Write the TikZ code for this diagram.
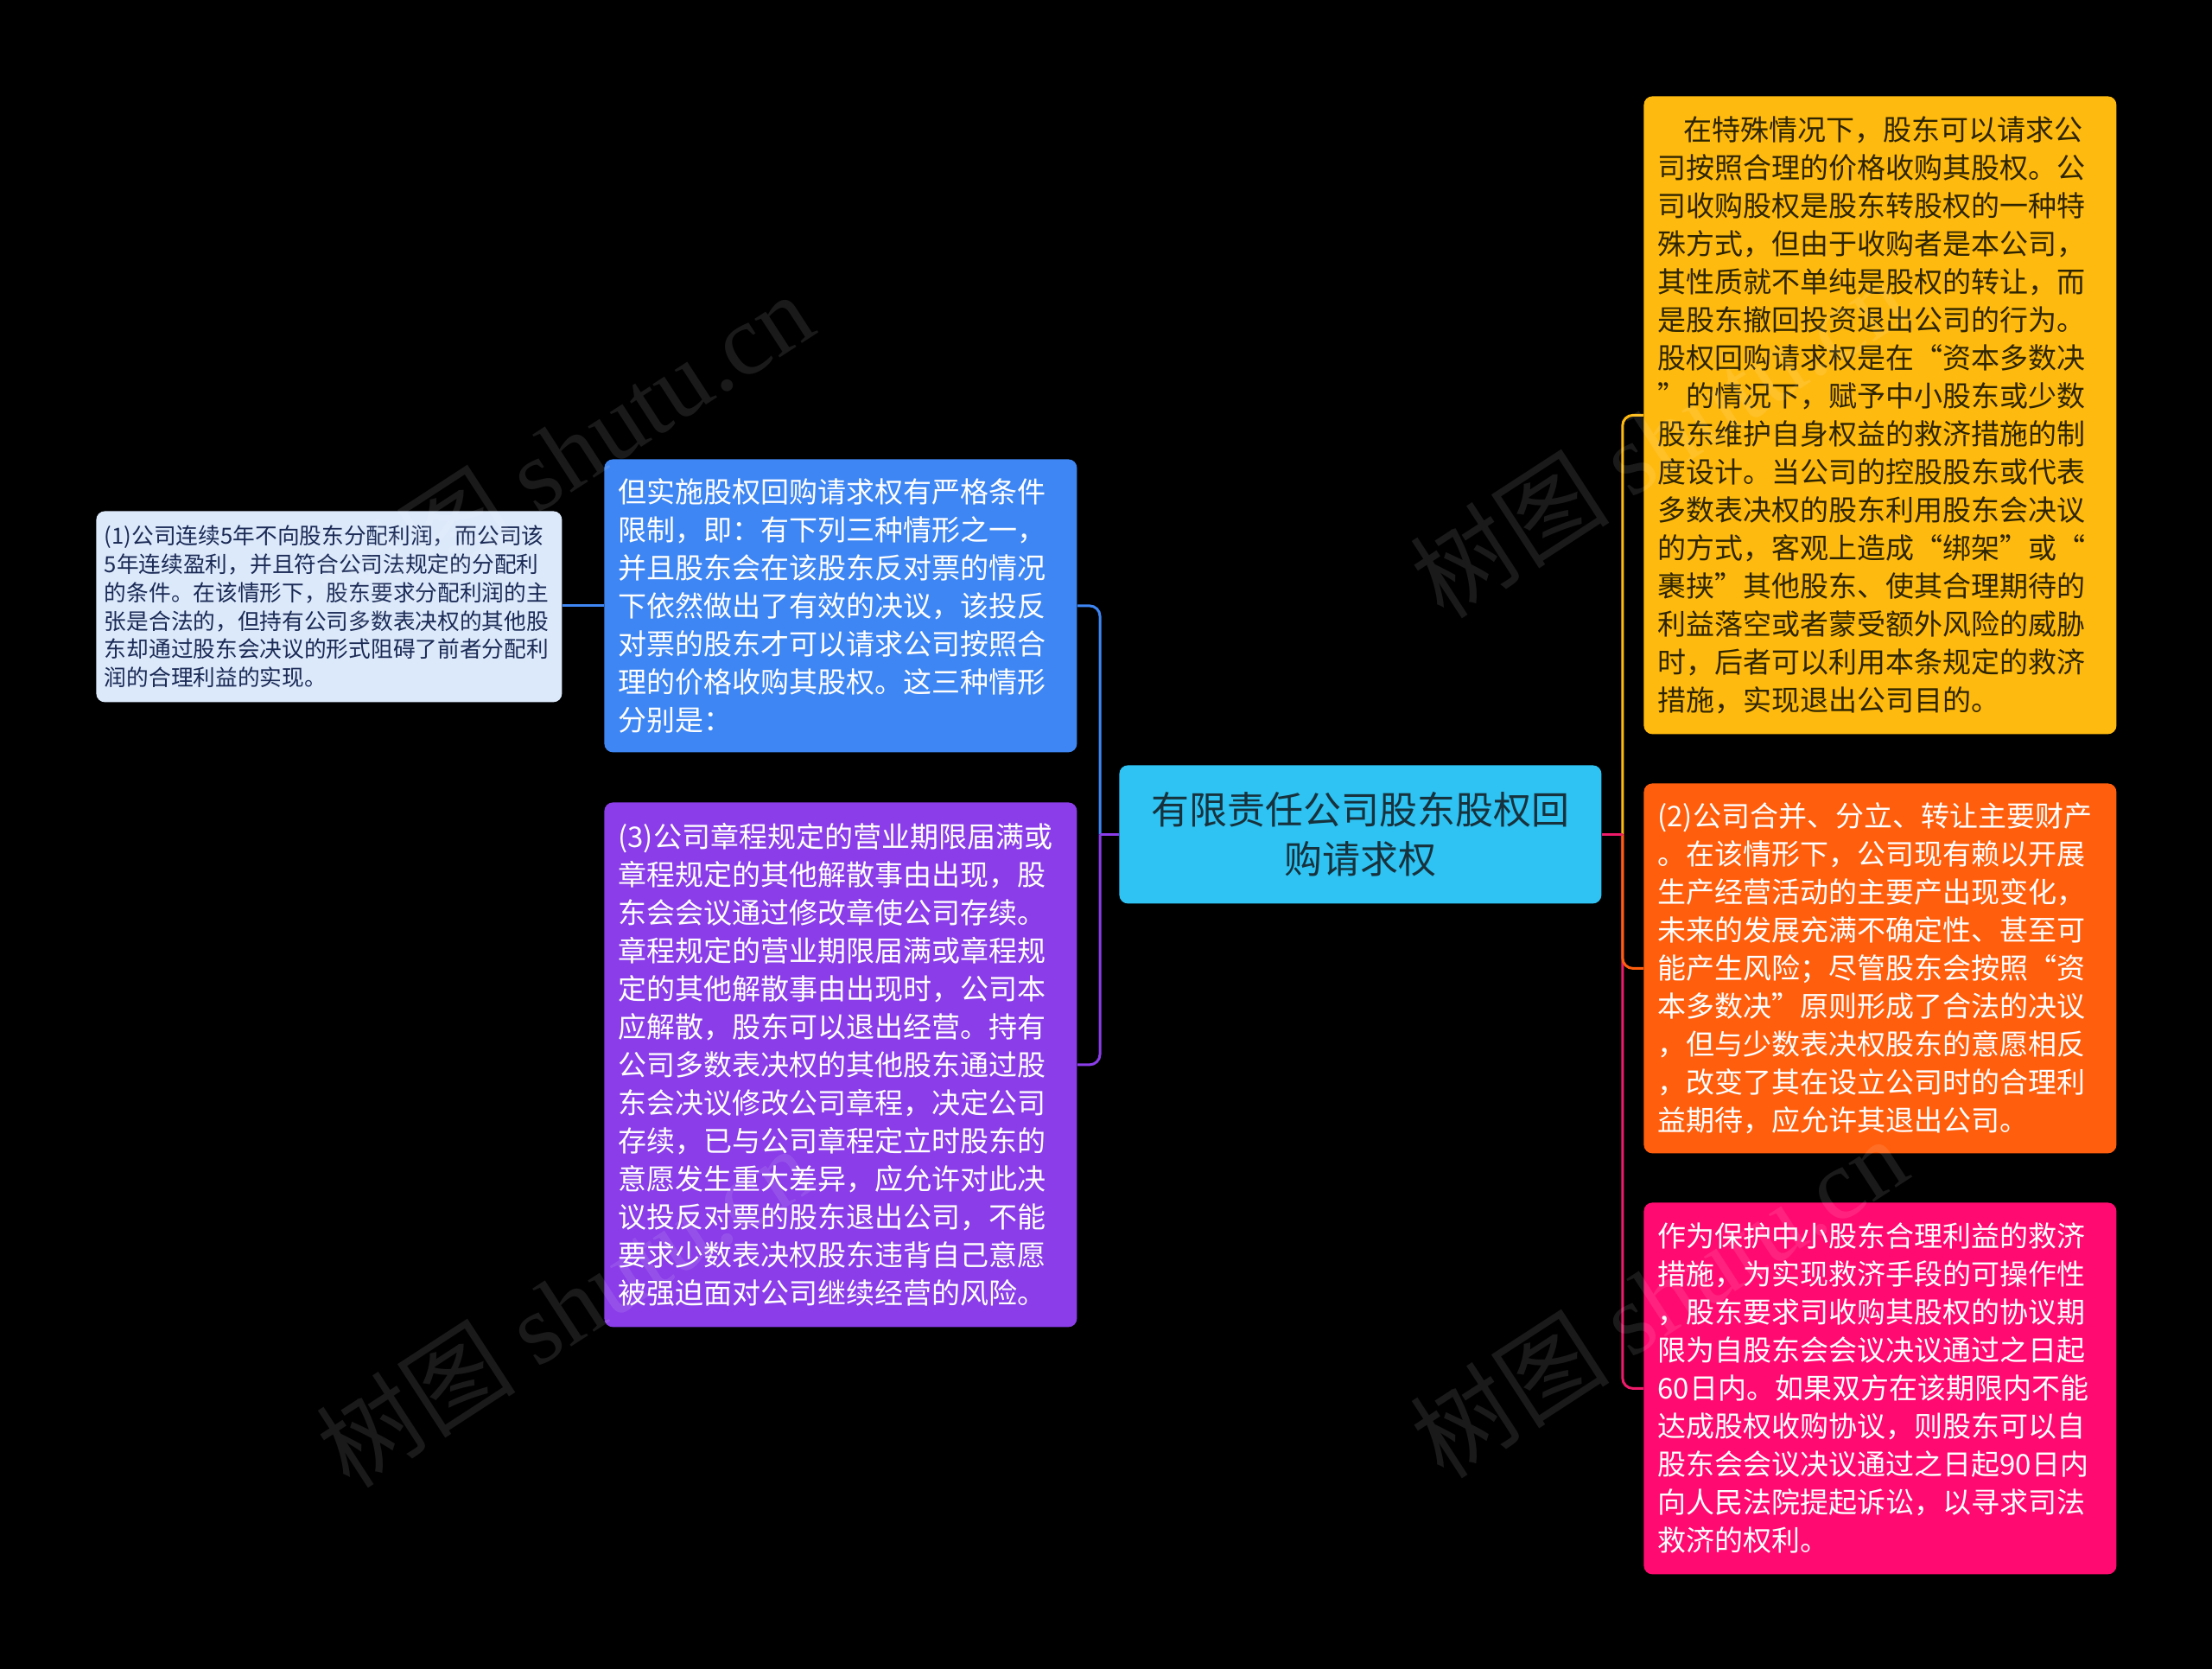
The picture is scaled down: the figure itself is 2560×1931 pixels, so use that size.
\documentclass[tikz,border=0pt]{standalone}
\usepackage{fontspec}
\setmainfont{Noto Sans CJK SC}
\newfontfamily\wmserif{Liberation Serif}
\definecolor{n1fill}{HTML}{DCE9FB}
\definecolor{n1text}{HTML}{1A2A55}
\definecolor{bluefill}{HTML}{3E86F3}
\definecolor{purplefill}{HTML}{8A3DE8}
\definecolor{centerfill}{HTML}{2EC3F3}
\definecolor{centertext}{HTML}{17323D}
\definecolor{yellowfill}{HTML}{FFBA0F}
\definecolor{yellowtext}{HTML}{2E2500}
\definecolor{orangefill}{HTML}{FF5E0D}
\definecolor{pinkfill}{HTML}{FF0A70}
\definecolor{pinkline}{HTML}{EE1A6A}
\begin{document}
\begin{tikzpicture}[x=0.5pt,y=-0.5pt,
  box/.style={rounded corners=5pt, anchor=north west, align=left,
    inner xsep=8pt, inner ysep=0pt, text width=257.5pt,
    font=\fontsize{16.5}{22}\selectfont},
  link/.style={line width=1.5pt, rounded corners=6pt},
  wm/.style={text=white, opacity=0.10, font=\fontsize{58}{60}\selectfont, inner sep=0pt}
]
\useasboundingbox[fill=black] (0,0) rectangle (2560,1931);

% center
\node[box, fill=centerfill, text=centertext, align=center, text width=263pt,
  minimum height=80pt, font=\fontsize{22}{28.5}\selectfont] (c) at (1295,885)
  {有限责任公司股东股权回\\购请求权};

% left nodes
\node[box, fill=bluefill, text=white, minimum height=169.5pt] (b) at (699,531)
  {但实施股权回购请求权有严格条件\\
   限制，即：有下列三种情形之一，\\
   并且股东会在该股东反对票的情况\\
   下依然做出了有效的决议，该投反\\
   对票的股东才可以请求公司按照合\\
   理的价格收购其股权。这三种情形\\
   分别是：};

\node[box, fill=purplefill, text=white, minimum height=303.5pt] (p) at (699,928)
  {(3)公司章程规定的营业期限届满或\\
   章程规定的其他解散事由出现，股\\
   东会会议通过修改章使公司存续。\\
   章程规定的营业期限届满或章程规\\
   定的其他解散事由出现时，公司本\\
   应解散，股东可以退出经营。持有\\
   公司多数表决权的其他股东通过股\\
   东会决议修改公司章程，决定公司\\
   存续，已与公司章程定立时股东的\\
   意愿发生重大差异，应允许对此决\\
   议投反对票的股东退出公司，不能\\
   要求少数表决权股东违背自己意愿\\
   被强迫面对公司继续经营的风险。};

\node[box, fill=n1fill, text=n1text, text width=260pt, inner xsep=4.75pt,
  minimum height=110.5pt, font=\fontsize{12.85}{16.35}\selectfont] (n1) at (111,591)
  {(1)公司连续5年不向股东分配利润，而公司该\\
   5年连续盈利，并且符合公司法规定的分配利\\
   的条件。在该情形下，股东要求分配利润的主\\
   张是合法的，但持有公司多数表决权的其他股\\
   东却通过股东会决议的形式阻碍了前者分配利\\
   润的合理利益的实现。};

% right nodes
\node[box, fill=yellowfill, text=yellowtext, minimum height=369pt] (y) at (1902,111)
  {\hspace*{0.9em}在特殊情况下，股东可以请求公\\
   司按照合理的价格收购其股权。公\\
   司收购股权是股东转股权的一种特\\
   殊方式，但由于收购者是本公司，\\
   其性质就不单纯是股权的转让，而\\
   是股东撤回投资退出公司的行为。\\
   股权回购请求权是在“资本多数决\\
   ”的情况下，赋予中小股东或少数\\
   股东维护自身权益的救济措施的制\\
   度设计。当公司的控股股东或代表\\
   多数表决权的股东利用股东会决议\\
   的方式，客观上造成“绑架”或“\\
   裹挟”其他股东、使其合理期待的\\
   利益落空或者蒙受额外风险的威胁\\
   时，后者可以利用本条规定的救济\\
   措施，实现退出公司目的。};

\node[box, fill=orangefill, text=white, minimum height=214pt] (o) at (1902,906)
  {(2)公司合并、分立、转让主要财产\\
   。在该情形下，公司现有赖以开展\\
   生产经营活动的主要产出现变化，\\
   未来的发展充满不确定性、甚至可\\
   能产生风险；尽管股东会按照“资\\
   本多数决”原则形成了合法的决议\\
   ，但与少数表决权股东的意愿相反\\
   ，改变了其在设立公司时的合理利\\
   益期待，应允许其退出公司。};

\node[box, fill=pinkfill, text=white, minimum height=215pt] (k) at (1902,1391)
  {作为保护中小股东合理利益的救济\\
   措施，为实现救济手段的可操作性\\
   ，股东要求司收购其股权的协议期\\
   限为自股东会会议决议通过之日起\\
   60日内。如果双方在该期限内不能\\
   达成股权收购协议，则股东可以自\\
   股东会会议决议通过之日起90日内\\
   向人民法院提起诉讼，以寻求司法\\
   救济的权利。};

% connectors
\coordinate (lj) at ([xshift=-11pt]c.west);
\coordinate (rj) at ([xshift=12pt]c.east);
\draw[link, draw=bluefill] (lj) |- (b.east);
\draw[link, draw=purplefill] (lj) |- (p.east);
\draw[line width=1.5pt, draw=purplefill] (c.west) -- (lj);
\draw[line width=1.5pt, draw=bluefill] (b.west) -- (b.west -| n1.east);
\draw[link, draw=yellowfill] (rj) |- (y.west);
\draw[link, draw=pinkline] (rj) |- (k.west);
\draw[link, draw=orangefill] (rj) |- (o.west);
\draw[line width=1.5pt, draw=pinkline] (c.east) -- (rj);

% watermarks
\node[wm, rotate=33] (wm1) at (653,523) {树图 {\wmserif shutu.cn}};
\node[wm, rotate=33] (wm2) at (1919,505) {树图 {\wmserif shutu.cn}};
\node[wm, rotate=33] (wm3) at (653,1511) {树图 {\wmserif shutu.cn}};
\node[wm, rotate=33] (wm4) at (1919,1500) {树图 {\wmserif shutu.cn}};
\end{tikzpicture}
\end{document}
